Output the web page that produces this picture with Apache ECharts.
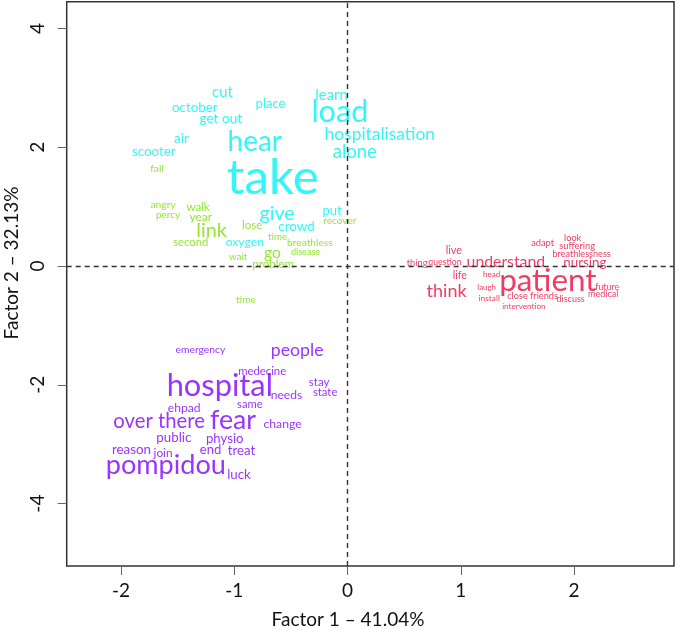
<!DOCTYPE html>
<html>
<head>
<meta charset="utf-8">
<script src="https://cdn.jsdelivr.net/npm/echarts@6/dist/echarts.min.js"></script>
<style>
html,body{margin:0;padding:0;background:#fff;}
#chart{width:685px;height:630px;}
</style>
</head>
<body>
<div id="chart"></div>
<script>
// ---- data (factor coordinates and relative text size) ----
const cyanWords = ['cut','october','place','get out','learn','load','hear','hospitalisation','alone','air','scooter','take','give','put','crowd','oxygen'];
const cyanX = [-1.105,-1.349,-0.680,-1.119,-0.141,-0.068,-0.819,0.285,0.064,-1.466,-1.711,-0.660,-0.622,-0.136,-0.451,-0.907];
const cyanY = [2.934,2.660,2.727,2.487,2.879,2.598,2.093,2.222,1.924,2.138,1.924,1.481,0.887,0.931,0.662,0.409];
const cyanCex = [1.33,1.19,1.17,1.21,1.33,2.73,2.5,1.55,1.65,1.21,1.19,4.4,1.75,1.17,1.2,1.09];

const greenWords = ['fall','angry','walk','percy','year','recover','link','lose','second','time','breathless','go','disease','wait','problem','time'];
const greenX = [-1.682,-1.629,-1.320,-1.585,-1.296,-0.068,-1.201,-0.843,-1.384,-0.618,-0.333,-0.663,-0.371,-0.966,-0.657,-0.898];
const greenY = [1.633,1.027,0.988,0.859,0.820,0.758,0.594,0.678,0.399,0.493,0.399,0.214,0.231,0.157,0.034,-0.561];
const greenCex = [0.92,0.92,1.03,0.89,1.07,0.9,1.78,1.03,1.01,0.87,0.91,1.39,0.81,0.88,1.04,0.89];

const redWords = ['live','adapt','look','suffering','breathlessness','thing','question','understand','nursing','life','head','patient','think','laugh','future','medical','close friends','discuss','install','intervention'];
const redX = [0.939,1.723,1.988,2.028,2.067,0.615,0.860,1.398,2.096,0.992,1.272,1.769,0.875,1.228,2.293,2.258,1.634,1.970,1.251,1.557];
const redY = [0.269,0.392,0.466,0.332,0.197,0.056,0.072,0.072,0.056,-0.163,-0.135,-0.244,-0.416,-0.365,-0.348,-0.476,-0.505,-0.556,-0.544,-0.673];
const redCex = [0.97,0.83,0.82,0.83,0.81,0.83,0.78,1.41,1.2,0.95,0.72,2.8,1.61,0.7,0.79,0.8,0.82,0.8,0.75,0.72];

const purpleWords = ['emergency','people','medecine','hospital','stay','state','needs','same','ehpad','over there','fear','change','public','physio','reason','join','end','treat','pompidou','luck'];
const purpleX = [-1.299,-0.445,-0.754,-1.128,-0.251,-0.198,-0.539,-0.863,-1.443,-1.664,-1.011,-0.574,-1.534,-1.084,-1.908,-1.629,-1.210,-0.936,-1.605,-0.958];
const purpleY = [-1.414,-1.414,-1.779,-2.020,-1.965,-2.121,-2.172,-2.323,-2.386,-2.609,-2.593,-2.665,-2.884,-2.907,-3.098,-3.143,-3.098,-3.109,-3.350,-3.519];
const purpleCex = [0.92,1.58,1.01,2.75,1.03,1.01,1.08,1.0,1.08,1.81,2.38,1.09,1.19,1.18,1.2,1.06,1.17,1.18,2.42,1.19];

const xTicks = [-2,-1,0,1,2];
const yTicks = [-4,-2,0,2,4];
const xTitle = 'Factor 1 \u2013 41.04%';
const yTitle = 'Factor 2 \u2013 32.13%';

// ---- presentation ----
const FONT = 'Lato';
const BASE = 11.2;

function wordSeries(words, xs, ys, cex, color) {
  return {
    type: 'scatter',
    symbolSize: 0,
    silent: true,
    data: words.map((w, i) => ({
      name: w,
      value: [xs[i], ys[i]],
      label: { fontSize: Math.round(cex[i] * BASE * 10) / 10 }
    })),
    label: {
      show: true,
      position: 'inside',
      formatter: '{b}',
      color: color,
      fontFamily: FONT,
      align: 'center',
      verticalAlign: 'middle'
    }
  };
}

const chart = echarts.init(document.getElementById('chart'), null, { renderer: 'canvas' });
chart.setOption({
  animation: false,
  backgroundColor: '#fff',
  textStyle: { fontFamily: FONT },
  grid: {
    left: 66.7, right: 11, top: 1.7, bottom: 64,
    containLabel: false,
    outerBoundsMode: 'none',
    show: true, borderColor: '#333', borderWidth: 1.5, backgroundColor: 'transparent'
  },
  xAxis: {
    type: 'value', min: -2.48, max: 2.883,
    splitLine: { show: false },
    axisLine: { show: false, onZero: false },
    axisTick: { show: true, length: 9, customValues: xTicks, lineStyle: { color: '#666', width: 1 } },
    axisLabel: { customValues: xTicks, color: '#111', fontSize: 19, margin: 15, fontFamily: FONT }
  },
  yAxis: {
    type: 'value', min: -5.05, max: 4.45,
    splitLine: { show: false },
    axisLine: { show: false, onZero: false },
    axisTick: { show: true, length: 9, customValues: yTicks, lineStyle: { color: '#666', width: 1 } },
    axisLabel: { customValues: yTicks, color: '#111', fontSize: 19, margin: 19, rotate: 90, fontFamily: FONT }
  },
  series: [
    {
      type: 'scatter', data: [], silent: true,
      markLine: {
        silent: true, symbol: 'none', animation: false,
        label: { show: false },
        lineStyle: { color: '#333', type: [5, 4], width: 1.4 },
        data: [{ xAxis: 0 }, { yAxis: 0 }]
      }
    },
    wordSeries(greenWords, greenX, greenY, greenCex, '#7AE000'),
    wordSeries(cyanWords, cyanX, cyanY, cyanCex, '#00F5F5'),
    wordSeries(redWords, redX, redY, redCex, '#EE0A3C'),
    wordSeries(purpleWords, purpleX, purpleY, purpleCex, '#8000FF')
  ],
  graphic: [
    { type: 'text', x: 348, y: 620, silent: true,
      style: { text: xTitle, fill: '#111', fontSize: 19, fontFamily: FONT, align: 'center', verticalAlign: 'middle' } },
    { type: 'text', x: 12, y: 263, rotation: Math.PI / 2, silent: true,
      style: { text: yTitle, fill: '#111', fontSize: 19, fontFamily: FONT, align: 'center', verticalAlign: 'middle' } }
  ]
});
</script>
</body>
</html>
